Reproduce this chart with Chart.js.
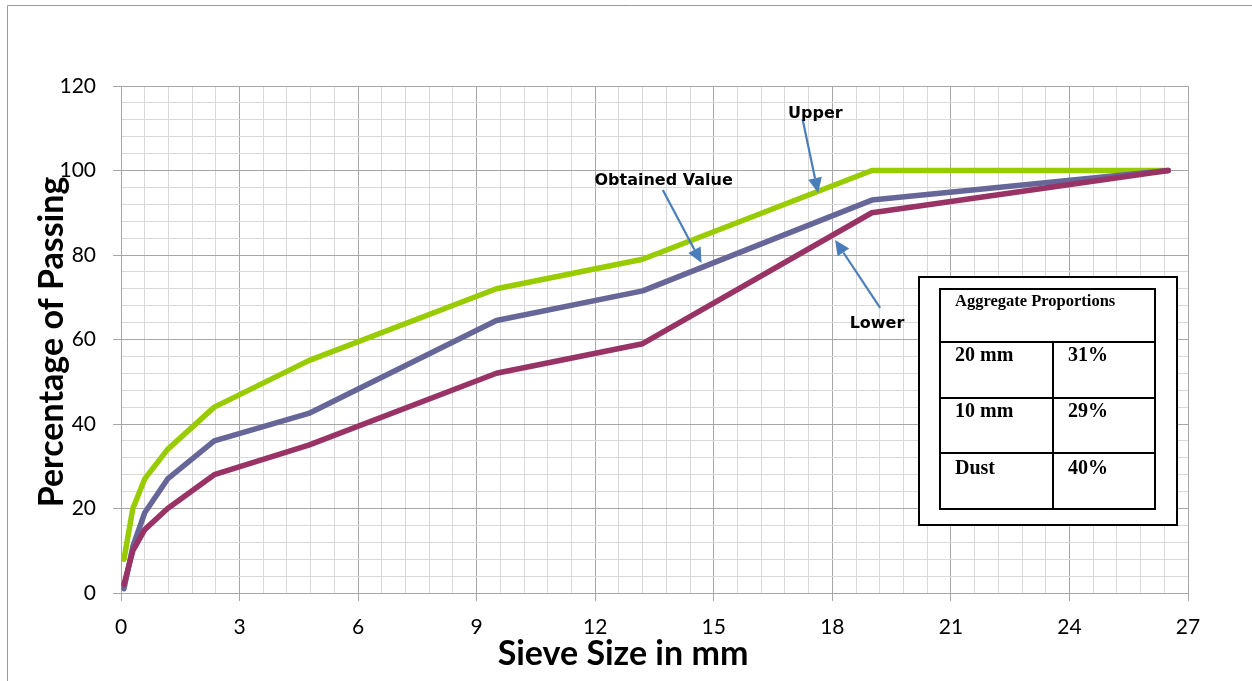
<!DOCTYPE html>
<html>
<head>
<meta charset="utf-8">
<title>Sieve Analysis</title>
<script src="https://cdn.jsdelivr.net/npm/chart.js@4.4.1/dist/chart.umd.min.js"></script>
<style>
    html, body {
        margin: 0;
        padding: 0;
        background: #ffffff;
    }
    #gradation {
        display: block;
    }
</style>
</head>
<body>
<canvas id="gradation" width="1252" height="681"></canvas>
<script>
// Sieve sizes (mm) and percentage passing for each curve
const sieveSizes = [0.075, 0.3, 0.6, 1.18, 2.36, 4.75, 9.5, 13.2, 19, 26.5];
const upperLimit = [8, 20, 27, 34, 44, 55, 72, 79, 100, 100];
const obtainedValue = [1, 11, 19, 27, 36, 42.5, 64.5, 71.5, 93, 100];
const lowerLimit = [2, 10, 15, 20, 28, 35, 52, 59, 90, 100];

const xTitle = 'Sieve Size in mm';
const yTitle = 'Percentage of Passing';

// Blend table shown inside the plot
const tableHeader = 'Aggregate Proportions';
const tableRows = [
    ['20 mm', '31%'],
    ['10 mm', '29%'],
    ['Dust', '40%']
];

// Callout labels with arrows, in data units
const callouts = [
    { text: 'Upper', at: [17.57, 112.4], from: [17.25, 112.0], to: [17.64, 94.7] },
    { text: 'Obtained Value', at: [13.73, 96.6], from: [13.71, 95.4], to: [14.69, 78.1] },
    { text: 'Lower', at: [19.13, 62.7], from: [19.21, 67.5], to: [18.07, 83.55] }
];

const toPoints = (ys) => sieveSizes.map((x, i) => ({ x: x, y: ys[i] }));

const isMultiple = (v, step) => Math.abs(v / step - Math.round(v / step)) < 1e-6;

const MAJOR = '#a6a6a6';
const MINOR = '#d9d9d9';

function lineSet(label, data, color) {
    return {
        label: label,
        data: toPoints(data),
        borderColor: color,
        backgroundColor: color,
        borderWidth: 5.5,
        borderCapStyle: 'round',
        borderJoinStyle: 'round',
        pointRadius: 0,
        tension: 0,
        fill: false
    };
}

function drawArrow(ctx, x1, y1, x2, y2) {
    const ang = Math.atan2(y2 - y1, x2 - x1);
    const head = 15;
    const half = 7;
    const bx = x2 - head * Math.cos(ang);
    const by = y2 - head * Math.sin(ang);
    ctx.beginPath();
    ctx.moveTo(x1, y1);
    ctx.lineTo(bx, by);
    ctx.stroke();
    ctx.beginPath();
    ctx.moveTo(x2, y2);
    ctx.lineTo(bx + half * Math.sin(ang), by - half * Math.cos(ang));
    ctx.lineTo(bx - half * Math.sin(ang), by + half * Math.cos(ang));
    ctx.closePath();
    ctx.fill();
}

const decorations = {
    id: 'decorations',
    beforeDraw(chart) {
        const ctx = chart.ctx;
        ctx.save();
        // outer chart frame
        ctx.strokeStyle = '#9a9a9a';
        ctx.lineWidth = 1;
        ctx.beginPath();
        ctx.moveTo(7.5, chart.height + 2);
        ctx.lineTo(7.5, 5.5);
        ctx.lineTo(chart.width + 2, 5.5);
        ctx.stroke();
        ctx.restore();
    },
    afterDraw(chart) {
        const ctx = chart.ctx;
        const xs = chart.scales.x;
        const ys = chart.scales.y;
        ctx.save();

        // axis titles
        ctx.fillStyle = '#000000';
        ctx.font = 'bold 34px Lato, "Open Sans", sans-serif';
        ctx.textAlign = 'center';
        ctx.textBaseline = 'alphabetic';
        ctx.fillText(xTitle, 623, 665);
        ctx.save();
        ctx.translate(63, 342);
        ctx.rotate(-Math.PI / 2);
        ctx.fillText(yTitle, 0, 0);
        ctx.restore();

        // callouts
        ctx.strokeStyle = '#4a7ebb';
        ctx.fillStyle = '#4a7ebb';
        ctx.lineWidth = 2.2;
        callouts.forEach(c => {
            drawArrow(ctx,
                xs.getPixelForValue(c.from[0]), ys.getPixelForValue(c.from[1]),
                xs.getPixelForValue(c.to[0]), ys.getPixelForValue(c.to[1]));
        });
        ctx.fillStyle = '#000000';
        ctx.font = 'bold 16px "DejaVu Sans", sans-serif';
        ctx.textAlign = 'center';
        callouts.forEach(c => {
            ctx.fillText(c.text, xs.getPixelForValue(c.at[0]), ys.getPixelForValue(c.at[1]));
        });

        // proportions table
        const box = { left: 919, top: 277, right: 1177, bottom: 525 };
        const tbl = { left: 940, top: 289, right: 1155, bottom: 509, split: 1053 };
        const rowLines = [342, 398, 453];
        ctx.fillStyle = '#ffffff';
        ctx.fillRect(box.left, box.top, box.right - box.left, box.bottom - box.top);
        ctx.strokeStyle = '#000000';
        ctx.lineWidth = 2;
        ctx.strokeRect(box.left, box.top, box.right - box.left, box.bottom - box.top);
        ctx.strokeRect(tbl.left, tbl.top, tbl.right - tbl.left, tbl.bottom - tbl.top);
        ctx.beginPath();
        rowLines.forEach(y => {
            ctx.moveTo(tbl.left, y);
            ctx.lineTo(tbl.right, y);
        });
        ctx.moveTo(tbl.split, rowLines[0]);
        ctx.lineTo(tbl.split, tbl.bottom);
        ctx.stroke();

        ctx.fillStyle = '#000000';
        ctx.textAlign = 'left';
        ctx.font = 'bold 16.5px "Liberation Serif", "Times New Roman", serif';
        ctx.fillText(tableHeader, 955, 306);
        ctx.font = 'bold 20px "Liberation Serif", "Times New Roman", serif';
        const baselines = [361, 417, 474];
        tableRows.forEach((row, i) => {
            ctx.fillText(row[0], 955, baselines[i]);
            ctx.fillText(row[1], 1068, baselines[i]);
        });

        ctx.restore();
    }
};

new Chart(document.getElementById('gradation').getContext('2d'), {
    type: 'line',
    data: {
        datasets: [
            lineSet('Lower', lowerLimit, '#993366'),
            lineSet('Obtained Value', obtainedValue, '#666699'),
            lineSet('Upper', upperLimit, '#99cc00')
        ]
    },
    options: {
        responsive: false,
        animation: false,
        layout: {
            padding: { left: 0, top: 86, right: 64, bottom: 0 }
        },
        plugins: {
            legend: { display: false },
            tooltip: { enabled: false }
        },
        scales: {
            x: {
                type: 'linear',
                min: 0,
                max: 27,
                afterFit: (scale) => { scale.height = 88; },
                border: { color: MAJOR, width: 1 },
                grid: {
                    color: (ctx) => isMultiple(ctx.tick.value, 3) ? MAJOR : MINOR,
                    tickColor: (ctx) => isMultiple(ctx.tick.value, 3) ? MAJOR : 'rgba(0,0,0,0)',
                    tickLength: 8,
                    lineWidth: 1
                },
                ticks: {
                    stepSize: 0.6,
                    autoSkip: false,
                    maxRotation: 0,
                    minRotation: 0,
                    padding: 14,
                    color: '#000000',
                    font: { family: 'Lato, "Open Sans", sans-serif', size: 21 },
                    callback: (v) => isMultiple(v, 3) ? String(Math.round(v)) : ''
                }
            },
            y: {
                type: 'linear',
                min: 0,
                max: 120,
                afterFit: (scale) => { scale.width = 121; },
                border: { color: MAJOR, width: 1 },
                grid: {
                    color: (ctx) => isMultiple(ctx.tick.value, 20) ? MAJOR : MINOR,
                    tickColor: (ctx) => isMultiple(ctx.tick.value, 20) ? MAJOR : 'rgba(0,0,0,0)',
                    tickLength: 8,
                    lineWidth: 1
                },
                ticks: {
                    stepSize: 4,
                    autoSkip: false,
                    padding: 17,
                    color: '#000000',
                    font: { family: 'Lato, "Open Sans", sans-serif', size: 21 },
                    callback: (v) => isMultiple(v, 20) ? String(Math.round(v)) : ''
                }
            }
        }
    },
    plugins: [decorations]
});
</script>
</body>
</html>
